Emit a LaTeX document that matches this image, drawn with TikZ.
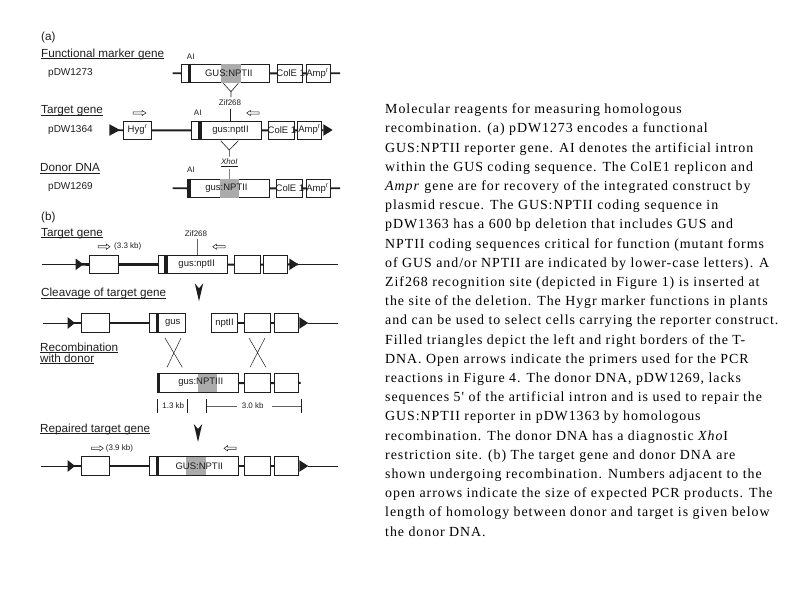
\documentclass[tikz,border=0pt]{standalone}
\usepackage{fontspec}
\setmainfont{Liberation Sans}
\newfontfamily\capfont[LetterSpace=6.9]{Liberation Serif}
\usetikzlibrary{calc}
\definecolor{ink}{HTML}{1E1E1E}
\definecolor{greyfill}{HTML}{ABABAB}
\newsavebox\ulbox
\newcommand\ulin[1]{\sbox\ulbox{#1}\rlap{\rule[-1.9pt]{\wd\ulbox}{0.8pt}}\usebox\ulbox}
\tikzset{
  x=1pt,y=-1pt,
  gene/.style={draw=ink,line width=0.9pt,fill=white,inner sep=0pt,outer sep=0pt},
  lab/.style={font=\fontsize{9.5}{11}\selectfont,text=ink,inner sep=0pt},
  head/.style={font=\fontsize{11.7}{12.6}\selectfont,text=ink,inner sep=0pt,anchor=west},
  tiny/.style={font=\fontsize{8}{9}\selectfont,text=ink,inner sep=0pt},
  thickline/.style={draw=ink,line width=2.6pt},
  thinline/.style={draw=ink,line width=0.8pt},
  hair/.style={draw=ink!70,line width=0.5pt},
  opena/.style={draw=ink,line width=0.5pt,fill=white},
}
% name, x1, x2, y1, y2
\newcommand\gbox[5]{\pgfmathsetmacro\gw{#3-(#2)-0.9}\pgfmathsetmacro\gh{#5-(#4)-0.9}%
  \node[gene,minimum width=\gw pt,minimum height=\gh pt] (#1) at ({(#2+#3)/2},{(#4+#5)/2}) {};}
% x1,x2,y1,y2 filled strip
\newcommand\strip[5]{\fill[#1] (#2,#4) rectangle (#3,#5);}
% right-pointing / left-pointing open arrow: tail x, tip x, y
\newcommand\oarrow[3]{\pgfmathsetmacro\ga{(#2-(#1))*0.3}%
  \draw[opena] (#1,#3-1.2) -- ({#2-\ga},#3-1.2) -- ({#2-\ga},#3-2.6) -- (#2,#3) -- ({#2-\ga},#3+2.6) -- ({#2-\ga},#3+1.2) -- (#1,#3+1.2) -- cycle;}
% triangle: base x, tip x, y
\newcommand\tri[3]{\fill[ink] (#1,#3-5.8) -- (#2,#3) -- (#1,#3+5.8) -- cycle;}
% notched downward arrowhead: x, top y
\newcommand\notch[2]{\fill[ink] (#1-4.2,#2) -- (#1,#2+5) -- (#1+4.2,#2) -- (#1,#2+18) -- cycle;}
\begin{document}
\begin{tikzpicture}
\useasboundingbox (0,0) rectangle (794,595);
% ---------- (a)
\node[head] (ta) at (41,37) {(a)};
\node[head] (h1) at (41,54) {\ulin{Functional marker gene}};
\node[lab,anchor=west,font=\fontsize{10}{11}\selectfont] (p1) at (48,73.3) {pDW1273};
\node[head] (h2) at (41,111) {\ulin{Target gene}};
\node[lab,anchor=west,font=\fontsize{10}{11}\selectfont] (p2) at (48,130) {pDW1364};
\node[head] (h3) at (40,168.5) {\ulin{Donor DNA}};
\node[lab,anchor=west,font=\fontsize{10}{11}\selectfont] (p3) at (48,186.7) {pDW1269};
% row 1
\coordinate (r1l) at (172.7,73.3); \coordinate (r1r) at (340,73.3);
\gbox{a1}{180.7}{270}{63.7}{83}
\gbox{a2}{276.7}{303.3}{63.7}{83}
\gbox{a3}{305.7}{330.7}{63.7}{83}
\draw[thickline,line width=1.8pt] (r1l) -- (a1.west) (a1.east) -- (a2.west) (a2.east) -- (a3.west) (a3.east) -- (r1r);
\strip{ink}{187.7}{191}{64}{82.6}
\strip{greyfill}{221}{240.7}{64}{82.6}
\node[lab] (a1t) at (228.8,73.3) {GUS:NPTII};
\node[lab] (a2t) at (290.7,73.3) {ColE 1};
\node[lab] (a3t) at (317.5,73.3) {Amp\textsuperscript{r}};
\node[tiny] (ai1) at (190.7,56.7) {AI};
% V and Zif268
\coordinate (v1a) at (223.3,83.3); \coordinate (v1b) at (238.3,83.3); \coordinate (v1c) at (231,91.7); \coordinate (v1d) at (231,97);
\draw[thinline,line width=0.6pt] (v1a) -- (v1c) -- (v1b) (v1c) -- (v1d);
\node[tiny] (z1) at (230,103) {Zif268};
% row 2
\coordinate (r2l) at (114,130); \coordinate (r2r) at (323.3,130);
\gbox{b0}{122.7}{152}{120.7}{140}
\gbox{b1}{191.3}{261.7}{120.7}{140}
\gbox{b2}{268}{295}{120.7}{140}
\gbox{b3}{297}{322.3}{120.7}{140}
\draw[thickline,line width=1.8pt] (r2l) -- (b0.west) (b0.east) -- (b1.west) (b1.east) -- (b2.west) (b2.east) -- (b3.west) (b3.east) -- (r2r);
\tri{109.3}{120}{130}
\tri{323.3}{332.7}{130}
\strip{ink}{198.3}{201.7}{121}{139.6}
\node[lab] (b0t) at (137.5,130) {Hyg\textsuperscript{r}};
\node[lab] (b1t) at (230.5,130) {gus:nptII};
\node[lab] (b2t) at (282,130) {ColE 1};
\node[lab] (b3t) at (309.5,130) {Amp\textsuperscript{r}};
\node[tiny] (ai2) at (197.7,113) {AI};
\draw[thinline] (z1.south -| 230.3,0) ++(0,2.5) -- (b1.north -| 230.3,0);
\oarrow{133}{146}{113}
\oarrow{259}{246.7}{113}
% V and XhoI
\coordinate (v2a) at (220.7,140.7); \coordinate (v2b) at (238.3,140.7); \coordinate (v2c) at (229.3,150); \coordinate (v2d) at (229.3,156.7);
\draw[thinline,line width=0.6pt] (v2a) -- (v2c) -- (v2b) (v2c) -- (v2d);
\node[tiny] (xh) at (229.3,162.5) {\ulin{\textit{XhoI}}};
% row 3
\coordinate (r3l) at (172.7,188.3); \coordinate (r3r) at (340,188.3);
\gbox{c1}{187.3}{270}{178.7}{198}
\gbox{c2}{275.7}{303.3}{178.7}{198}
\gbox{c3}{305.7}{330.7}{178.7}{198}
\draw[thickline,line width=1.8pt] (r3l) -- (c1.west) (c1.east) -- (c2.west) (c2.east) -- (c3.west) (c3.east) -- (r3r);
\strip{ink}{187.3}{191}{178.7}{198}
\strip{greyfill}{220}{239.3}{179}{197.6}
\node[lab] (c1t) at (226.5,188.3) {gus:NPTII};
\node[lab] (c2t) at (290,188.3) {ColE 1};
\node[lab] (c3t) at (317.5,188.3) {Amp\textsuperscript{r}};
\node[tiny] (ai3) at (191,170) {AI};
\draw[thinline,draw=ink!55] (xh.south -| 229.3,0) ++(0,2.5) -- (c1.north -| 229.3,0);
% ---------- (b)
\node[head] (tb) at (41,217.7) {(b)};
\node[head] (h4) at (41,233.5) {\ulin{Target gene}};
\node[tiny] (z2) at (196,234) {Zif268};
\oarrow{98}{110}{246.7}
\node[tiny,anchor=west] (s1) at (114,246.7) {(3.3 kb)};
\oarrow{225}{212.7}{246.7}
% row b1
\coordinate (d0) at (41.7,264.3); \coordinate (d5) at (338,264.3); \coordinate (d1) at (76,264.3); \coordinate (d4) at (298,264.3);
\gbox{d1b}{89.3}{118.7}{254.7}{274.3}
\gbox{d2b}{157.7}{227.7}{254.7}{274.3}
\gbox{d3b}{233.7}{260.7}{254.7}{274.3}
\gbox{d4b}{263.3}{288.3}{254.7}{274.3}
\draw[thinline] (d0) -- (d1) (d4) -- (d5);
\draw[thickline] (d1) -- (d1b.west) (d1b.east) -- (d2b.west);
\draw[thickline,line width=2pt] (d2b.east) -- (d3b.west) (d3b.east) -- (d4b.west) (d4b.east) -- (d4);
\tri{75.7}{83.3}{264.3}
\tri{289.3}{298.3}{264.3}
\strip{ink}{164}{167.7}{255}{274}
\node[lab] (d2t) at (196.7,264.3) {gus:nptII};
\draw[hair] (z2.south -| 197,0) ++(0,2) -- (d2b.north -| 197,0);
\notch{199}{283.3}
\node[head] (h5) at (41,293.5) {\ulin{Cleavage of target gene}};
% row b2
\coordinate (e0) at (42.7,323); \coordinate (e5) at (338,323); \coordinate (e1) at (68,323); \coordinate (e4) at (308,323);
\gbox{e1b}{80.7}{110}{313.3}{332.7}
\gbox{e2b}{149.3}{186}{313.3}{332.7}
\gbox{e3b}{210.7}{238.3}{313.3}{332.7}
\gbox{e4b}{244.3}{271}{313.3}{332.7}
\gbox{e5b}{273.7}{298.7}{313.3}{332.7}
\draw[thinline] (e0) -- (e1) (e4) -- (e5);
\draw[thickline,line width=2pt] (e1) -- (e1b.west) (e1b.east) -- (e2b.west) (e3b.east) -- (e4b.west) (e4b.east) -- (e5b.west);
\tri{67.7}{75}{323}
\tri{299.3}{308.3}{323}
\strip{ink}{156}{159.3}{313.7}{332.3}
\node[lab] (e2t) at (172.7,323) {gus};
\node[lab] (e3t) at (224.5,323) {nptII};
% crosses
\coordinate (x1a) at (165,338); \coordinate (x1b) at (182.3,367.3); \coordinate (x1c) at (181,338); \coordinate (x1d) at (167,367.3);
\coordinate (x2a) at (249,338); \coordinate (x2b) at (266,367.3); \coordinate (x2c) at (265,338); \coordinate (x2d) at (250,367.3);
\draw[thinline,line width=0.5pt] (x1a) -- (x1b) (x1c) -- (x1d) (x2a) -- (x2b) (x2c) -- (x2d);
\node[head] (h6) at (40,347.8) {\ulin{Recombination}};
\node[head] (h7) at (40,358.8) {\ulin{with donor}};
% row donor
\coordinate (f5) at (300.7,382.7);
\gbox{f1b}{156.7}{239}{373.3}{392.7}
\gbox{f2b}{244}{270.7}{373.3}{392.7}
\gbox{f3b}{273.7}{298.7}{373.3}{392.7}
\draw[thickline,line width=2pt] (f1b.east) -- (f2b.west) (f2b.east) -- (f3b.west) (f3b.east) -- (f5);
\strip{ink}{156.7}{159.5}{373.3}{392.7}
\strip{greyfill}{198.3}{216.7}{373.7}{392.3}
\node[lab] (f1t) at (200.7,382.7) {gus:NPTIII};
% scale
\coordinate (g1) at (157.3,399.3); \coordinate (g1e) at (157.3,413);
\coordinate (g2) at (187.3,399.3); \coordinate (g2e) at (187.3,413);
\coordinate (g3) at (206.7,399.3); \coordinate (g3e) at (206.7,413);
\coordinate (g4) at (301,399.3); \coordinate (g4e) at (301,413);
\draw[thinline,line width=0.6pt] (g1) -- (g1e) (g2) -- (g2e) (g3) -- (g3e) (g4) -- (g4e);
\node[tiny] (k1) at (173.3,405.7) {1.3 kb};
\node[tiny] (k2) at (252.7,405.7) {3.0 kb};
\coordinate (g5) at (236.7,405.7); \coordinate (g6) at (271.7,405.7);
\draw[hair,line width=0.35pt] (g3 |- g5) -- (g5) (g6) -- (g4 |- g6);
\notch{198}{424}
\node[head] (h8) at (40,429) {\ulin{Repaired target gene}};
\oarrow{91.7}{103.3}{448.3}
\node[tiny,anchor=west] (s2) at (105.7,448.3) {(3.9 kb)};
\oarrow{236}{224}{448.3}
% row b3
\coordinate (i0) at (41,466); \coordinate (i5) at (338,466); \coordinate (i1) at (68,466); \coordinate (i4) at (308,466);
\gbox{i1b}{80.7}{110}{456.3}{475.7}
\gbox{i2b}{149.3}{239}{456.3}{475.7}
\gbox{i3b}{244.3}{271}{456.3}{475.7}
\gbox{i4b}{273.7}{298.7}{456.3}{475.7}
\draw[thinline] (i0) -- (i1) (i4) -- (i5);
\draw[thickline] (i1) -- (i1b.west) (i1b.east) -- (i2b.west);
\draw[thickline,line width=2pt] (i2b.east) -- (i3b.west) (i3b.east) -- (i4b.west);
\tri{67.7}{75}{466}
\tri{299.3}{308.3}{466}
\strip{ink}{156}{159.3}{456.7}{475.3}
\strip{greyfill}{186}{206}{456.7}{475.3}
\node[lab] (i2t) at (199.3,466) {GUS:NPTII};
% ---------- caption
\node[anchor=north west,inner sep=0pt,align=left,text=black,
  font=\capfont\fontsize{13.9}{19.2}\selectfont] (cap) at (385,103.8) {%
Molecular reagents for measuring homologous\\
recombination. (a) pDW1273 encodes a functional\\
GUS:NPTII reporter gene. AI denotes the artificial intron\\
within the GUS coding sequence. The ColE1 replicon and\\
\textit{Ampr} gene are for recovery of the integrated construct by\\
plasmid rescue. The GUS:NPTII coding sequence in\\
pDW1363 has a 600 bp deletion that includes GUS and\\
NPTII coding sequences critical for function (mutant forms\\
of GUS and/or NPTII are indicated by lower-case letters). A\\
Zif268 recognition site (depicted in Figure 1) is inserted at\\
the site of the deletion. The Hygr marker functions in plants\\
and can be used to select cells carrying the reporter construct.\\
Filled triangles depict the left and right borders of the T-\\
DNA. Open arrows indicate the primers used for the PCR\\
reactions in Figure 4. The donor DNA, pDW1269, lacks\\
sequences 5' of the artificial intron and is used to repair the\\
GUS:NPTII reporter in pDW1363 by homologous\\
recombination. The donor DNA has a diagnostic \textit{Xho}I\\
restriction site. (b) The target gene and donor DNA are\\
shown undergoing recombination. Numbers adjacent to the\\
open arrows indicate the size of expected PCR products. The\\
length of homology between donor and target is given below\\
the donor DNA.};
\end{tikzpicture}
\end{document}
